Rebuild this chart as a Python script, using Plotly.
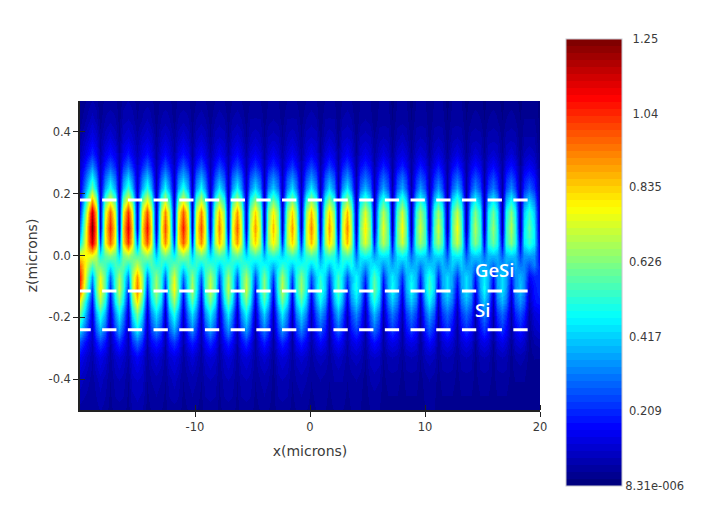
import numpy as np
import plotly.graph_objects as go
from plotly.colors import sample_colorscale

z_microns = [0.50, 0.44, 0.38, 0.33, 0.29, 0.25, 0.22, 0.18, 0.14, 0.09, 0.04, 0.00,
             -0.03, -0.07, -0.11, -0.15, -0.19, -0.24, -0.28, -0.33, -0.40, -0.50]

x_edge = [-20.0]
x_upper = [-18.98, -17.39, -15.83, -14.2, -12.61, -11.04, -9.5, -7.91, -6.35, -4.78, -3.22, -1.59, 0.09,
           1.68, 3.19, 4.78, 6.35, 7.97, 9.57, 11.13, 12.76, 14.35, 15.91, 17.45, 19.04]
x_lower = [-18.22, -16.61, -15.04, -13.39, -11.83, -10.26, -8.7, -7.13, -5.57, -4.0, -2.43, -0.78, 0.87,
           2.43, 4.0, 5.57, 7.13, 8.78, 10.35, 11.91, 13.57, 15.13, 16.7, 18.26, 20.0]
x_shoulder = [-18.6, -17.8, -17.0, -16.22, -15.44, -14.62, -13.8, -13.0, -12.22, -11.44, -10.65, -9.88, -9.1,
              -8.3, -7.52, -6.74, -5.96, -5.18, -4.39, -3.61, -2.82, -2.01, -1.18, -0.35, 0.48, 1.28, 2.05,
              2.81, 3.6, 4.39, 5.18, 5.96, 6.74, 7.55, 8.38, 9.18, 9.96, 10.74, 11.52, 12.34, 13.16, 13.96,
              14.74, 15.52, 16.3, 17.08, 17.85, 18.65, 19.5]

edge_col = [.02, .03, .05, .07, .09, .11, .13, .15, .20, .30, .45, .80,
            .95, 1.05, 1.00, .75, .60, .42, .25, .15, .09, .05]

upper_cols = [
    [.06,.05,.06,.05,.05,.05,.05,.05,.05,.05,.04,.05,.05,.05,.05,.04,.04,.04,.04,.04,.04,.03,.03,.03,.03],
    [.09,.07,.08,.08,.07,.07,.07,.07,.07,.06,.06,.06,.07,.06,.07,.06,.05,.05,.05,.05,.05,.05,.05,.05,.04],
    [.14,.12,.12,.12,.11,.12,.11,.10,.11,.10,.09,.10,.10,.10,.10,.09,.08,.09,.08,.08,.08,.07,.07,.07,.06],
    [.21,.18,.19,.18,.17,.18,.17,.16,.17,.15,.15,.15,.16,.15,.16,.14,.13,.13,.12,.12,.13,.12,.11,.12,.10],
    [.33,.27,.29,.28,.26,.28,.26,.24,.25,.23,.22,.23,.24,.23,.24,.21,.20,.20,.19,.19,.20,.18,.17,.18,.15],
    [.48,.40,.43,.41,.38,.40,.38,.35,.37,.34,.33,.34,.35,.34,.35,.30,.29,.30,.27,.27,.29,.26,.25,.26,.22],
    [.60,.50,.54,.52,.48,.51,.48,.45,.47,.43,.41,.43,.45,.43,.45,.38,.36,.37,.35,.35,.37,.33,.31,.33,.28],
    [.88,.74,.78,.76,.70,.74,.70,.65,.69,.63,.60,.63,.65,.63,.65,.56,.53,.55,.50,.50,.54,.48,.46,.48,.41],
    [1.15,.97,1.03,.99,.92,.98,.92,.86,.90,.83,.79,.83,.86,.83,.86,.74,.69,.72,.66,.66,.71,.63,.60,.63,.53],
    [1.25,1.05,1.12,1.08,1.00,1.06,1.00,.93,.98,.90,.86,.90,.93,.90,.93,.80,.75,.78,.72,.72,.77,.68,.65,.68,.58],
    [1.15,.97,1.03,.99,.92,.98,.92,.86,.90,.83,.79,.83,.86,.83,.86,.74,.69,.72,.66,.66,.71,.63,.60,.63,.53],
    [.75,.63,.67,.65,.60,.64,.60,.56,.59,.54,.52,.54,.56,.54,.56,.48,.45,.47,.43,.43,.46,.41,.39,.41,.35],
    [.56,.47,.50,.49,.45,.48,.45,.42,.44,.41,.39,.41,.42,.41,.42,.36,.34,.35,.32,.32,.35,.31,.29,.31,.26],
    [.35,.29,.31,.30,.28,.30,.28,.26,.27,.25,.24,.25,.26,.25,.26,.22,.21,.22,.20,.20,.22,.19,.18,.19,.16],
    [.24,.20,.21,.21,.19,.20,.19,.18,.19,.17,.16,.17,.18,.17,.18,.15,.14,.15,.14,.14,.15,.13,.12,.13,.11],
    [.16,.14,.15,.14,.13,.14,.13,.12,.13,.12,.11,.12,.12,.12,.12,.10,.10,.10,.09,.09,.10,.09,.08,.09,.08],
    [.11,.09,.10,.10,.09,.10,.09,.08,.09,.08,.08,.08,.08,.08,.08,.07,.07,.07,.06,.06,.07,.06,.06,.06,.05],
    [.09,.07,.08,.08,.07,.07,.07,.07,.07,.06,.06,.06,.07,.06,.07,.06,.05,.05,.05,.05,.05,.05,.05,.05,.04],
    [.08,.06,.07,.06,.06,.06,.06,.06,.06,.05,.05,.05,.06,.05,.06,.05,.05,.05,.04,.04,.05,.04,.04,.04,.03],
    [.06,.05,.06,.05,.05,.05,.05,.05,.05,.05,.04,.05,.05,.05,.05,.04,.04,.04,.04,.04,.04,.03,.03,.03,.03],
    [.05,.04,.04,.04,.04,.04,.04,.04,.04,.04,.03,.04,.04,.04,.04,.03,.03,.03,.03,.03,.03,.03,.03,.03,.02],
    [.04,.03,.03,.03,.03,.03,.03,.03,.03,.03,.03,.03,.03,.03,.03,.02,.02,.02,.02,.02,.02,.02,.02,.02,.02],
]

lower_cols = [
    [.02,.02,.03,.02,.02,.02,.02,.02,.02,.02,.02,.02,.02,.02,.02,.02,.01,.01,.02,.01,.01,.01,.01,.01,.01],
    [.03,.03,.04,.03,.03,.03,.03,.03,.03,.03,.03,.03,.02,.02,.02,.02,.02,.02,.02,.02,.02,.02,.02,.02,.01],
    [.05,.04,.06,.04,.05,.04,.04,.04,.04,.04,.04,.04,.03,.03,.03,.04,.03,.03,.03,.03,.03,.03,.03,.02,.01],
    [.06,.06,.08,.05,.06,.05,.06,.06,.06,.05,.06,.05,.04,.05,.04,.05,.04,.04,.04,.04,.04,.04,.04,.03,.02],
    [.08,.07,.10,.07,.08,.07,.07,.07,.07,.07,.07,.07,.06,.06,.05,.06,.05,.05,.06,.05,.05,.05,.05,.04,.02],
    [.09,.08,.10,.07,.09,.07,.08,.08,.08,.07,.08,.07,.06,.06,.06,.07,.05,.05,.06,.05,.05,.05,.05,.04,.03],
    [.10,.09,.11,.08,.09,.08,.09,.08,.09,.08,.08,.08,.07,.07,.06,.07,.06,.06,.07,.05,.05,.06,.05,.05,.03],
    [.10,.09,.11,.08,.09,.08,.09,.08,.09,.08,.08,.08,.07,.07,.06,.07,.06,.06,.07,.05,.05,.06,.05,.05,.03],
    [.09,.08,.10,.07,.09,.07,.08,.08,.08,.07,.08,.07,.06,.06,.06,.07,.05,.05,.06,.05,.05,.05,.05,.04,.03],
    [.09,.08,.10,.07,.09,.07,.08,.08,.08,.07,.08,.07,.06,.06,.06,.07,.05,.05,.06,.05,.05,.05,.05,.04,.03],
    [.24,.22,.29,.20,.23,.20,.22,.21,.22,.20,.21,.20,.17,.17,.15,.18,.14,.14,.17,.14,.14,.14,.14,.12,.07],
    [.48,.43,.57,.41,.47,.41,.43,.42,.43,.39,.42,.40,.33,.35,.30,.36,.29,.29,.33,.27,.27,.29,.27,.24,.13],
    [.60,.54,.71,.51,.59,.51,.54,.53,.54,.49,.53,.50,.41,.44,.38,.45,.36,.36,.41,.34,.34,.36,.34,.30,.17],
    [.76,.68,.90,.65,.74,.65,.68,.67,.68,.62,.67,.63,.52,.55,.48,.57,.46,.46,.52,.43,.43,.46,.43,.38,.21],
    [.80,.72,.95,.68,.78,.68,.72,.70,.72,.65,.70,.66,.55,.58,.50,.60,.48,.48,.55,.45,.45,.48,.45,.40,.22],
    [.68,.61,.81,.58,.66,.58,.61,.60,.61,.55,.60,.56,.47,.49,.43,.51,.41,.41,.47,.38,.38,.41,.38,.34,.19],
    [.52,.47,.62,.44,.51,.44,.47,.46,.47,.42,.46,.43,.36,.38,.33,.39,.31,.31,.36,.29,.29,.31,.29,.26,.14],
    [.38,.35,.46,.33,.37,.33,.35,.34,.35,.31,.34,.32,.26,.28,.24,.29,.23,.23,.26,.22,.22,.23,.22,.19,.11],
    [.24,.22,.29,.20,.23,.20,.22,.21,.22,.20,.21,.20,.17,.17,.15,.18,.14,.14,.17,.14,.14,.14,.14,.12,.07],
    [.14,.12,.16,.12,.13,.12,.12,.12,.12,.11,.12,.11,.09,.10,.09,.10,.08,.08,.09,.08,.08,.08,.08,.07,.04],
    [.09,.08,.10,.07,.09,.07,.08,.08,.08,.07,.08,.07,.06,.06,.06,.07,.05,.05,.06,.05,.05,.05,.05,.04,.02],
    [.06,.05,.07,.05,.05,.05,.05,.05,.05,.05,.05,.05,.04,.04,.04,.04,.03,.03,.04,.03,.03,.03,.03,.03,.02],
]

shoulder_cols = [
    [.05,.05,.05,.05,.05,.05,.05,.05,.05,.05,.05,.04,.04,.04,.04,.04,.04,.04,.04,.04,.04,.04,.04,.04,.04,.04,.04,.04,.04,.04,.04,.04,.04,.04,.04,.04,.04,.04,.04,.04,.04,.03,.03,.03,.03,.03,.03,.03,.03],
    [.07,.06,.06,.07,.07,.06,.06,.06,.06,.06,.06,.06,.06,.06,.06,.06,.06,.06,.06,.05,.05,.06,.06,.06,.06,.06,.06,.06,.06,.05,.05,.05,.05,.05,.05,.05,.05,.05,.05,.05,.05,.04,.04,.04,.04,.04,.04,.04,.04],
    [.11,.09,.09,.10,.10,.10,.10,.09,.09,.09,.09,.09,.09,.09,.09,.09,.09,.08,.08,.08,.08,.08,.08,.09,.09,.08,.08,.09,.09,.08,.08,.07,.07,.07,.07,.07,.07,.07,.07,.07,.07,.07,.07,.07,.07,.07,.07,.06,.06],
    [.16,.14,.14,.14,.14,.14,.14,.13,.13,.14,.14,.13,.13,.12,.12,.13,.13,.12,.12,.11,.11,.12,.12,.12,.12,.12,.12,.12,.12,.11,.11,.10,.10,.11,.11,.10,.10,.10,.10,.10,.10,.09,.09,.09,.09,.09,.09,.08,.08],
    [.23,.20,.20,.21,.21,.20,.20,.19,.19,.20,.20,.19,.19,.18,.18,.19,.19,.17,.17,.17,.17,.17,.17,.18,.18,.17,.17,.18,.18,.16,.16,.15,.15,.15,.15,.14,.14,.14,.14,.15,.15,.14,.14,.13,.13,.14,.14,.12,.12],
    [.34,.29,.29,.31,.31,.30,.30,.28,.28,.30,.30,.28,.28,.26,.26,.28,.28,.26,.26,.25,.25,.26,.26,.26,.26,.26,.26,.26,.26,.23,.23,.22,.22,.23,.23,.21,.21,.21,.21,.22,.22,.20,.20,.19,.19,.20,.20,.18,.18],
    [.42,.36,.36,.38,.38,.36,.36,.34,.34,.36,.36,.34,.34,.32,.32,.33,.33,.31,.31,.30,.30,.31,.31,.32,.32,.31,.31,.32,.32,.28,.28,.26,.26,.27,.27,.25,.25,.25,.25,.27,.27,.24,.24,.23,.23,.24,.24,.21,.21],
    [.66,.56,.56,.59,.59,.57,.57,.53,.53,.56,.56,.53,.53,.50,.50,.52,.52,.48,.48,.46,.46,.48,.48,.50,.50,.48,.48,.50,.50,.43,.43,.41,.41,.42,.42,.39,.39,.39,.39,.42,.42,.37,.37,.36,.36,.37,.37,.32,.32],
    [.86,.72,.72,.77,.77,.74,.74,.69,.69,.73,.73,.69,.69,.64,.64,.68,.68,.62,.62,.60,.60,.62,.62,.64,.64,.62,.62,.64,.64,.56,.56,.53,.53,.54,.54,.51,.51,.51,.51,.54,.54,.48,.48,.46,.46,.48,.48,.41,.41],
    [.93,.79,.79,.84,.84,.81,.81,.75,.75,.79,.79,.75,.75,.70,.70,.74,.74,.68,.68,.65,.65,.68,.68,.70,.70,.68,.68,.70,.70,.61,.61,.57,.57,.59,.59,.55,.55,.55,.55,.58,.58,.52,.52,.50,.50,.52,.52,.45,.45],
    [.90,.76,.76,.81,.81,.78,.78,.73,.73,.77,.77,.73,.73,.68,.68,.72,.72,.66,.66,.64,.64,.66,.66,.68,.68,.66,.66,.68,.68,.60,.60,.57,.57,.58,.58,.55,.55,.55,.55,.58,.58,.52,.52,.50,.50,.52,.52,.45,.45],
    [.68,.58,.58,.61,.61,.59,.59,.55,.55,.58,.58,.55,.55,.52,.52,.54,.54,.50,.50,.48,.48,.50,.50,.52,.52,.50,.50,.52,.52,.45,.45,.43,.43,.44,.44,.41,.41,.41,.41,.44,.44,.39,.39,.38,.38,.39,.39,.34,.34],
    [.65,.55,.55,.59,.59,.57,.57,.53,.53,.56,.56,.53,.53,.50,.50,.52,.52,.48,.48,.46,.46,.48,.48,.50,.50,.48,.48,.50,.50,.43,.43,.41,.41,.42,.42,.39,.39,.39,.39,.42,.42,.37,.37,.36,.36,.37,.37,.32,.32],
    [.58,.58,.53,.53,.67,.67,.50,.50,.56,.56,.50,.50,.53,.53,.51,.51,.53,.53,.48,.48,.51,.51,.49,.49,.42,.42,.44,.44,.39,.39,.45,.45,.38,.38,.38,.38,.42,.42,.36,.36,.36,.36,.38,.38,.36,.36,.33,.33,.20],
    [.58,.58,.53,.53,.68,.68,.50,.50,.57,.57,.50,.50,.53,.53,.52,.52,.53,.53,.48,.48,.52,.52,.49,.49,.42,.42,.44,.44,.39,.39,.45,.45,.37,.37,.37,.37,.42,.42,.35,.35,.35,.35,.37,.37,.35,.35,.32,.32,.18],
    [.49,.49,.45,.45,.57,.57,.42,.42,.48,.48,.42,.42,.45,.45,.44,.44,.45,.45,.41,.41,.44,.44,.41,.41,.35,.35,.37,.37,.33,.33,.38,.38,.31,.31,.31,.31,.35,.35,.30,.30,.30,.30,.31,.31,.30,.30,.27,.27,.17],
    [.37,.37,.33,.33,.43,.43,.32,.32,.36,.36,.32,.32,.33,.33,.32,.32,.33,.33,.30,.30,.32,.32,.31,.31,.26,.26,.27,.27,.24,.24,.28,.28,.23,.23,.23,.23,.26,.26,.22,.22,.22,.22,.23,.23,.22,.22,.20,.20,.12],
    [.27,.27,.24,.24,.31,.31,.23,.23,.26,.26,.23,.23,.24,.24,.24,.24,.24,.24,.22,.22,.24,.24,.22,.22,.19,.19,.20,.20,.18,.18,.21,.21,.17,.17,.17,.17,.19,.19,.16,.16,.16,.16,.17,.17,.16,.16,.14,.14,.09],
    [.18,.18,.16,.16,.21,.21,.16,.16,.18,.18,.16,.16,.16,.16,.16,.16,.16,.16,.15,.15,.16,.16,.15,.15,.13,.13,.14,.14,.12,.12,.14,.14,.12,.12,.12,.12,.13,.13,.11,.11,.11,.11,.12,.12,.11,.11,.10,.10,.06],
    [.11,.11,.10,.10,.12,.12,.09,.09,.11,.11,.09,.09,.10,.10,.10,.10,.10,.10,.09,.09,.10,.10,.09,.09,.08,.08,.08,.08,.08,.08,.09,.09,.07,.07,.07,.07,.08,.08,.07,.07,.07,.07,.07,.07,.07,.07,.06,.06,.04],
    [.07,.07,.07,.07,.09,.09,.06,.06,.07,.07,.06,.06,.07,.07,.07,.07,.07,.07,.06,.06,.07,.07,.06,.06,.05,.05,.06,.06,.05,.05,.06,.06,.05,.05,.05,.05,.05,.05,.05,.05,.05,.05,.05,.05,.05,.05,.04,.04,.03],
    [.05,.05,.05,.05,.06,.06,.04,.04,.05,.05,.04,.04,.05,.05,.05,.05,.05,.05,.04,.04,.05,.05,.04,.04,.04,.04,.04,.04,.04,.04,.04,.04,.03,.03,.03,.03,.04,.04,.03,.03,.03,.03,.03,.03,.03,.03,.03,.03,.02],
]

layer_lines = [0.18, -0.115, -0.24]
x_ticks = [-10, 0, 10, 20]
x_tick_text = ["-10", "0", "10", "20"]
z_ticks = [0.4, 0.2, 0.0, -0.2, -0.4]
z_tick_text = ["0.4", "0.2", "0.0", "-0.2", "-0.4"]
cbar_vals = [1.25, 1.04, 0.835, 0.626, 0.417, 0.209, 8.31e-6]
cbar_text = ["\u00a0\u00a01.25", "\u00a0\u00a01.04", "\u00a00.835", "\u00a00.626", "\u00a00.417", "\u00a00.209", "8.31e-006"]

TEXT = "#3a3a3a"
FONT = "DejaVu Sans"

# put all the columns in x order
x_all = np.array(x_edge + x_upper + x_lower + x_shoulder)
order = np.argsort(x_all)
field = []
for e, up, lo, sh in zip(edge_col, upper_cols, lower_cols, shoulder_cols):
    field.append(np.array([e] + up + lo + sh)[order])

# jet in 64 flat bands like the original colour bar
jet = [[0, "#000080"], [0.125, "#0000ff"], [0.375, "#00ffff"], [0.625, "#ffff00"], [0.875, "#ff0000"], [1, "#800000"]]
n = 64
bands = sample_colorscale(jet, [i / (n - 1) for i in range(n)])
scale = []
for i, c in enumerate(bands):
    scale += [[i / n, c], [(i + 1) / n, c]]

fig = go.Figure()
fig.add_trace(go.Heatmap(
    x=x_all[order], y=z_microns[::-1], z=field[::-1],
    zmin=8.31e-6, zmax=1.25, zsmooth="best", colorscale=scale,
    colorbar=dict(
        thickness=56, thicknessmode="pixels", len=447, lenmode="pixels",
        x=(558 - 72) / 460, xanchor="left", y=(402 - 31) / 309, yanchor="top",
        xpad=0, ypad=0, outlinewidth=1, outlinecolor="#c8c8d0", ticks="", ticklen=0,
        tickmode="array", tickvals=cbar_vals, ticktext=cbar_text,
        tickfont=dict(family=FONT, size=11.5, color=TEXT),
    ),
))

for z_line in layer_lines:
    fig.add_shape(type="line", x0=-20.31, x1=18.96, y0=z_line, y1=z_line,
                  line=dict(color="white", width=3, dash="14.3px,11.4px"))

fig.add_annotation(x=14.2, y=-0.045, text="GeSi", showarrow=False, xanchor="left",
                   font=dict(family="Open Sans", size=18.5, color="white", weight=600))
fig.add_annotation(x=14.2, y=-0.175, text="Si", showarrow=False, xanchor="left",
                   font=dict(family="Open Sans", size=18.5, color="white", weight=600))

fig.update_xaxes(
    range=[-20, 20], tickmode="array", tickvals=x_ticks, ticktext=x_tick_text, ticks="outside", ticklen=5,
    tickcolor="#222222", showline=True, linecolor="#222222", linewidth=1.5, showgrid=False, zeroline=False,
    minor=dict(ticks="inside", ticklen=5, tickmode="array", tickvals=x_ticks, tickcolor="#222222", showgrid=False),
    tickfont=dict(family=FONT, size=11.5, color=TEXT),
    title=dict(text="x(microns)", font=dict(family=FONT, size=14, color=TEXT), standoff=14),
)
fig.update_yaxes(
    range=[-0.5, 0.5], tickmode="array", tickvals=z_ticks, ticktext=z_tick_text, ticks="outside", ticklen=5,
    tickcolor="#222222", showline=True, linecolor="#222222", linewidth=1.5, showgrid=False, zeroline=False,
    minor=dict(ticks="inside", ticklen=5, tickmode="array", tickvals=z_ticks, tickcolor="#222222", showgrid=False),
    tickfont=dict(family=FONT, size=11.5, color=TEXT),
    title=dict(text="z(microns)", font=dict(family=FONT, size=14, color=TEXT), standoff=8),
)
fig.update_layout(
    width=697, height=498, paper_bgcolor="white", plot_bgcolor="white",
    margin=dict(l=72, r=165, t=93, b=96, autoexpand=False),
    showlegend=False,
)
fig.write_html("out.html")
